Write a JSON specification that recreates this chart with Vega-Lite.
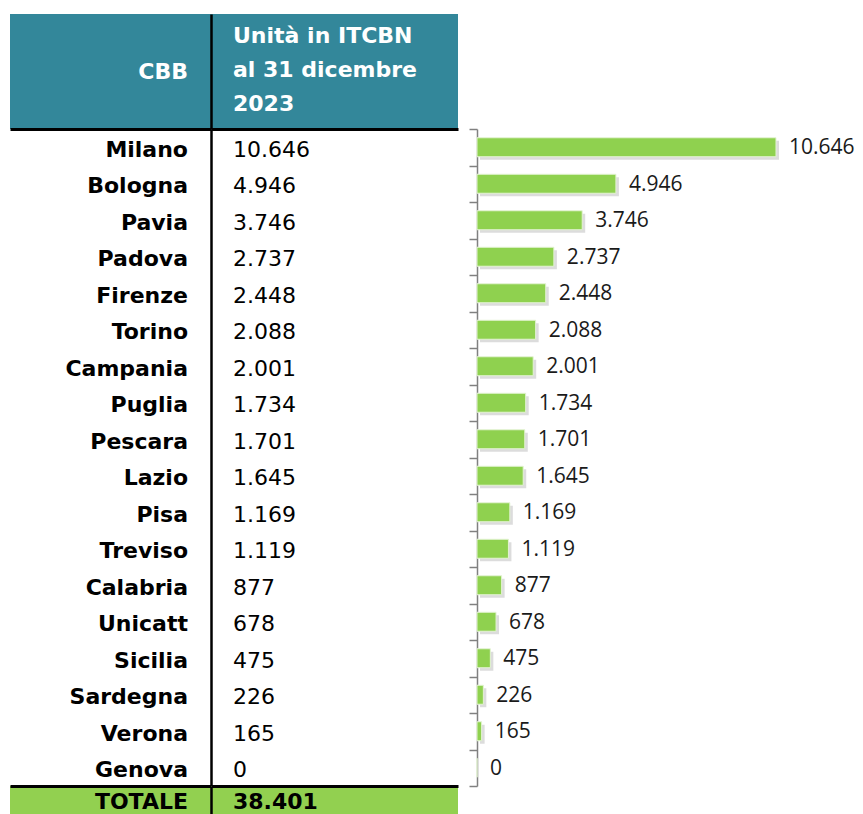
{
  "$schema": "https://vega.github.io/schema/vega-lite/v6.json",
  "padding": {"left": 10, "top": 14, "right": 0, "bottom": 0},
  "background": "white",
  "bounds": "flush",
  "spacing": 0,
  "columns": 4,
  "config": {
    "view": {"stroke": null},
    "locale": {"number": {"decimal": ",", "thousands": ".", "grouping": [3], "currency": ["€", ""]}}
  },
  "datasets": {
    "cbb": [
      {"name": "Milano", "value": 10646},
      {"name": "Bologna", "value": 4946},
      {"name": "Pavia", "value": 3746},
      {"name": "Padova", "value": 2737},
      {"name": "Firenze", "value": 2448},
      {"name": "Torino", "value": 2088},
      {"name": "Campania", "value": 2001},
      {"name": "Puglia", "value": 1734},
      {"name": "Pescara", "value": 1701},
      {"name": "Lazio", "value": 1645},
      {"name": "Pisa", "value": 1169},
      {"name": "Treviso", "value": 1119},
      {"name": "Calabria", "value": 877},
      {"name": "Unicatt", "value": 678},
      {"name": "Sicilia", "value": 475},
      {"name": "Sardegna", "value": 226},
      {"name": "Verona", "value": 165},
      {"name": "Genova", "value": 0}
    ],
    "tot": [{"name": "TOTALE", "value": 38401}],
    "none": []
  },
  "concat": [
    {
      "width": 201, "height": 115,
      "view": {"fill": "#33879a", "stroke": null},
      "data": {"values": [{"h": "CBB"}]},
      "mark": {"type": "text", "align": "right", "baseline": "middle", "dx": 77.5, "font": "DejaVu Sans", "fontSize": 22, "fontWeight": "bold", "color": "white"},
      "encoding": {
        "text": {"field": "h"},
        "x": {"field": "h", "type": "nominal", "axis": {"orient": "bottom", "domainColor": "black", "domainWidth": 3, "ticks": false, "labels": false, "title": null}},
        "y": {"field": "h", "type": "nominal", "axis": null}
      }
    },
    {
      "width": 247, "height": 115,
      "view": {"fill": "#33879a", "stroke": null},
      "data": {"values": [{"h": "Unità in ITCBN\nal 31 dicembre\n2023"}]},
      "mark": {"type": "text", "align": "left", "baseline": "middle", "dx": -101.5, "dy": -36, "lineBreak": "\n", "lineHeight": 34, "font": "DejaVu Sans", "fontSize": 22, "fontWeight": "bold", "color": "white"},
      "encoding": {
        "text": {"field": "h"},
        "x": {"field": "h", "type": "nominal", "axis": {"orient": "bottom", "domainColor": "black", "domainWidth": 3, "ticks": false, "labels": false, "title": null}},
        "y": {"field": "h", "type": "nominal", "axis": {"orient": "left", "domainColor": "black", "domainWidth": 2.5, "ticks": false, "labels": false, "title": null}}
      }
    },
    {"width": 19, "height": 115, "data": {"name": "none"}, "mark": "point"},
    {"width": 386, "height": 115, "data": {"name": "none"}, "mark": "point"},
    {
      "width": 201, "height": 657,
      "data": {"name": "cbb"},
      "mark": {"type": "text", "align": "right", "baseline": "middle", "dx": 77.5, "dy": 2.5, "font": "DejaVu Sans", "fontSize": 22, "fontWeight": "bold", "color": "black"},
      "encoding": {
        "text": {"field": "name"},
        "x": {"datum": "c", "type": "nominal", "axis": null},
        "y": {"field": "name", "type": "nominal", "sort": null, "axis": null}
      }
    },
    {
      "width": 247, "height": 657,
      "data": {"name": "cbb"},
      "mark": {"type": "text", "align": "left", "baseline": "middle", "dx": -101.5, "dy": 2.5, "font": "DejaVu Sans", "fontSize": 22, "color": "black"},
      "encoding": {
        "text": {"field": "value", "type": "quantitative", "format": ",d"},
        "x": {"datum": "c", "type": "nominal", "axis": null},
        "y": {"field": "name", "type": "nominal", "sort": null, "axis": {"orient": "left", "domainColor": "black", "domainWidth": 2.5, "ticks": false, "labels": false, "title": null}}
      }
    },
    {"width": 19, "height": 657, "data": {"name": "none"}, "mark": "point"},
    {
      "width": 386, "height": 657,
      "data": {"name": "cbb"},
      "encoding": {
        "y": {"field": "name", "type": "nominal", "sort": null, "scale": {"paddingInner": 0, "paddingOuter": 0}, "axis": {"orient": "left", "domainColor": "#808080", "domainWidth": 1.5, "tickColor": "#808080", "tickWidth": 1.5, "tickSize": 8, "tickBand": "extent", "labels": false, "title": null}},
        "x": {"field": "value", "type": "quantitative", "scale": {"domain": [0, 13744], "nice": false}, "axis": null}
      },
      "layer": [
        {"mark": {"type": "bar", "height": {"band": 0.52}, "color": "#9a9a9a", "opacity": 0.35, "xOffset": 3, "x2Offset": 3, "yOffset": 3, "y2Offset": 3}},
        {"mark": {"type": "bar", "height": {"band": 0.52}, "color": "#8fd14f", "stroke": "#e4f3d4", "strokeWidth": 1}},
        {"mark": {"type": "text", "align": "left", "baseline": "middle", "dx": 13, "dy": 1, "font": "Open Sans", "fontSize": 21, "color": "#1a1a1a"},
         "encoding": {"text": {"field": "value", "type": "quantitative", "format": ",d"}}}
      ]
    },
    {
      "width": 201, "height": 28,
      "view": {"fill": "#92d050", "stroke": null},
      "data": {"name": "tot"},
      "mark": {"type": "text", "align": "right", "baseline": "middle", "dx": 77.5, "dy": 1.5, "font": "DejaVu Sans", "fontSize": 22, "fontWeight": "bold", "color": "black"},
      "encoding": {
        "text": {"field": "name"},
        "x": {"datum": "c", "type": "nominal", "axis": {"orient": "top", "domainColor": "black", "domainWidth": 3, "ticks": false, "labels": false, "title": null}},
        "y": {"field": "name", "type": "nominal", "axis": null}
      }
    },
    {
      "width": 247, "height": 28,
      "view": {"fill": "#92d050", "stroke": null},
      "data": {"name": "tot"},
      "mark": {"type": "text", "align": "left", "baseline": "middle", "dx": -101.5, "dy": 1.5, "font": "DejaVu Sans", "fontSize": 22, "fontWeight": "bold", "color": "black"},
      "encoding": {
        "text": {"field": "value", "type": "quantitative", "format": ",d"},
        "x": {"datum": "c", "type": "nominal", "axis": {"orient": "top", "domainColor": "black", "domainWidth": 3, "ticks": false, "labels": false, "title": null}},
        "y": {"field": "name", "type": "nominal", "axis": {"orient": "left", "domainColor": "black", "domainWidth": 2.5, "ticks": false, "labels": false, "title": null}}
      }
    }
  ]
}
